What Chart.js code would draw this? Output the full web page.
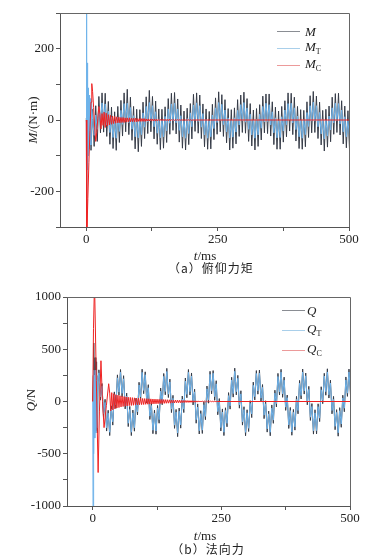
<!DOCTYPE html>
<html lang="zh">
<head>
<meta charset="UTF-8">
<title>俯仰力矩与法向力</title>
<script src="https://cdn.jsdelivr.net/npm/chart.js"></script>
<style>
  body { margin: 0; background: #fff; }
  #page { position: relative; width: 374px; height: 558px; font-family: "Liberation Serif", serif; color: #222; }
  canvas { position: absolute; left: 0; }
  .txt { position: absolute; white-space: nowrap; font-size: 13px; line-height: 1; }
  .mid { transform: translate(-50%, -50%); }
  .rot { transform: translate(-50%, -50%) rotate(-90deg); }
  .cap { font-family: "Noto Sans CJK SC", sans-serif; font-size: 12px; letter-spacing: 1px; }
  .leg { position: absolute; height: 0; width: 23px; border-top: 1px solid; }
  .lab { transform: translateY(-50%); }
  sub { font-size: 8px; font-style: normal; vertical-align: -3px; }
</style>
</head>
<body>
<div id="page">
  <canvas id="chartA" width="374" height="280" style="top:0"></canvas>
  <canvas id="chartB" width="374" height="278" style="top:280px"></canvas>

  <!-- (a) texts -->
  <div class="txt rot" style="left:32px;top:120px"><i>M</i>/(N·m)</div>
  <div class="txt mid" style="left:205px;top:255px"><i>t</i>/ms</div>
  <div class="txt mid cap" style="left:211px;top:268px">（a）俯仰力矩</div>
  <div class="leg" style="left:277px;top:31px;border-color:#8a8d93"></div>
  <div class="leg" style="left:277px;top:48px;border-color:#a9cfea"></div>
  <div class="leg" style="left:277px;top:65px;border-color:#ec9a9a"></div>
  <div class="txt lab" style="left:305px;top:31px"><i>M</i></div>
  <div class="txt lab" style="left:305px;top:48px"><i>M</i><sub>T</sub></div>
  <div class="txt lab" style="left:305px;top:65px"><i>M</i><sub>C</sub></div>

  <!-- (b) texts -->
  <div class="txt rot" style="left:30px;top:400px"><i>Q</i>/N</div>
  <div class="txt mid" style="left:205px;top:535px"><i>t</i>/ms</div>
  <div class="txt mid cap" style="left:208px;top:549px">（b）法向力</div>
  <div class="leg" style="left:282px;top:310px;border-color:#8a8d93"></div>
  <div class="leg" style="left:282px;top:330px;border-color:#a9cfea"></div>
  <div class="leg" style="left:282px;top:350px;border-color:#ec9a9a"></div>
  <div class="txt lab" style="left:307px;top:310px"><i>Q</i></div>
  <div class="txt lab" style="left:307px;top:330px"><i>Q</i><sub>T</sub></div>
  <div class="txt lab" style="left:307px;top:350px"><i>Q</i><sub>C</sub></div>
</div>

<script>
// ---- axes ----
const xTicks = [0, 125, 250, 375, 500];
const xLabels = [0, 250, 500];
const yTicksA = [-300, -200, -100, 0, 100, 200, 300];
const yLabelsA = [-200, 0, 200];
const yTicksB = [-1000, -750, -500, -250, 0, 250, 500, 750, 1000];
const yLabelsB = [-1000, -500, 0, 500, 1000];

// samples every 3 ms from t = 0
const stepMs = 3;

// (a) pitching moment M, N·m
const mValues = [
  5,-74,28,-85,30,-74,40,-60,66,-36, 76,-34,75,-46,52,-68,36,-80,23,-85,
  38,-63,55,-45,76,-33,86,-41,64,-57, 38,-81,30,-89,29,-74,50,-52,65,-38,
  83,-33,66,-53,53,-68,31,-83,30,-79, 37,-63,60,-40,75,-29,77,-39,59,-62,
  42,-79,25,-84,33,-69,46,-53,72,-32, 76,-37,70,-52,45,-75,31,-82,24,-81,
  44,-55,62,-40,79,-33,71,-46,57,-64, 32,-84,29,-79,34,-67,57,-46,70,-35,
  78,-37,60,-60,46,-73,28,-84,32,-74, 43,-56,67,-36,73,-38,73,-45,51,-69,
  36,-82,25,-82,38,-62,54,-47,76,-31, 75,-41,64,-59,38,-80,29,-82,27,-75,
  51,-49,68,-36,80,-35,67,-52,50,-70, 27,-87,30,-76,39,-61,64,-40,74,-35,
  75,-42,54,-67,39,-78,26,-83
];
const mtHeadTimes = [0, 0.4, 1.0, 1.7, 2.5, 3.3, 4.2, 5.2, 6.3, 7.5, 8.7, 10];
const mtHeadValues = [0, 340, -250, 160, -140, 90, -100, 70, -80, 60, -70, 50];
const mtValues = [
  18,-42,1,-52,1,-43,14,-26,36,-5, 48,-1,45,-14,25,-35,7,-49,-3,-51,
  8,-32,27,-12,46,-1,47,-8,35,-26, 12,-47,0,-50,1,-41,20,-20,38,-5,
  49,-2,40,-19,23,-37,3,-50,0,-47, 10,-30,31,-9,45,-3,47,-8,31,-29,
  12,-47,-2,-51,4,-38,20,-19,42,-1, 48,-4,40,-20,18,-42,2,-51,-2,-47,
  14,-24,34,-7,49,-1,44,-13,28,-33, 6,-50,-1,-48,6,-34,27,-14,43,-2,
  49,-6,34,-26,16,-42,0,-51,2,-42, 16,-23,38,-5,47,-4,43,-14,23,-36,
  6,-50,-2,-49,9,-31,28,-13,46,0, 47,-8,34,-27,11,-47,0,-51,1,-41,
  21,-18,40,-3,50,-3,40,-19,21,-39, 1,-53,0,-45,11,-28,34,-8,47,-2,
  46,-11,28,-33,9,-47,-2,-50
];
const mcHeadTimes = [0, 1, 3, 5, 7, 9, 10.5, 12, 14, 16, 18, 20, 22, 24, 26, 28, 30, 32];
const mcHeadValues = [0, -330, -220, -120, -30, 50, 102, 80, 35, -20, -60, -35, 5, 38, 15, -25, 18, -15];
const mcBandStart = 34, mcBandStep = 2;
const mcBandValues = [
  22,-21,19,-17,15,-14,13,-12,11,-10, 10,-9,9,-8,8,-8,7,-7,7,-7,
  6,-6,6,-6,6,-5,5,-5,5,-5, 5,-5,4,-4,4,-4,4,-4,4,-4,
  3,-3,3,-3,3,-3,3,-3,3,-3, 2,-2,2,-2,2,-2,2,-2,2,-2,
  2,-2,2,-2,1,-1,1,-1,1,-1, 1,-1,1,-1,1,-1,1,-1,1,-1,
  1,-1,1,-1
];
const mcTailTimes = [202, 500];
const mcTailValues = [0, 0];

// (b) normal force Q, N
const qHeadTimes = [0, 1, 2, 3, 4.5, 6, 7.5, 9, 10.5];
const qHeadValues = [0, 250, 560, -100, 420, -280, 380, -300, 250];
const qValues = [
  173,-2,288,68,303,13,172,-154,21,-283, -84,-326,-41,-226,92,-66,255,59,306,44,
  247,-71,80,-240,-47,-326,-82,-284,31,-129, 184,12,309,75,284,-14,161,-172,-12,-308,
  -83,-313,-38,-208,129,-31,268,64,317,38, 214,-106,59,-257,-76,-336,-63,-255,52,-106,
  225,36,306,62,273,-33,118,-208,-23,-311, -88,-306,-1,-174,148,-16,289,73,296,12,
  199,-127,28,-282,-71,-326,-60,-242,85,-73, 232,42,319,63,250,-64,103,-226,-50,-328,
  -79,-287,8,-154,185,15,296,70,301,0, 162,-164,7,-293,-92,-328,-33,-209,108,-52,
  269,62,308,40,233,-85,62,-258,-57,-323, -76,-274,49,-118,202,24,311,71,272,-32,
  145,-181,-20,-312,-79,-310,-22,-192,141,-21, 270,60,313,33,204,-118,49,-270,-78,-332,
  -59,-247,60,-98,235,49,310,60
];
const qtHeadTimes = [0, 0.6, 1.3, 2.2, 3, 4, 5, 6, 7.2, 8.4, 9.6];
const qtHeadValues = [0, -1050, 300, -500, 250, -350, 300, -300, 250, -250, 200];
const qtValues = [
  143,30,261,101,274,44,146,-120,-9,-252, -112,-294,-71,-194,65,-33,226,90,280,78,
  217,-40,52,-208,-77,-294,-109,-251,2,-98, 158,46,279,106,256,18,131,-140,-39,-275,
  -112,-282,-64,-174,99,0,240,96,287,70, 187,-73,30,-226,-102,-302,-93,-224,24,-74,
  195,68,279,95,244,-2,92,-174,-53,-280, -116,-274,-31,-142,121,17,260,104,270,46,
  169,-96,0,-250,-101,-294,-87,-209,56,-42, 206,76,289,94,222,-32,73,-194,-77,-295,
  -108,-256,-18,-120,155,46,268,102,271,32, 135,-131,-22,-262,-118,-294,-63,-178,80,-20,
  239,94,281,73,204,-54,36,-224,-87,-292, -104,-242,19,-86,175,57,282,102,246,2,
  115,-150,-48,-280,-109,-278,-49,-159,112,10, 244,94,283,64,176,-86,19,-238,-105,-299,
  -88,-216,34,-64,205,80,282,92
];
const qcHeadTimes = [0, 1.5, 3.5, 7, 10.5, 13, 16, 19, 22, 26.5, 31];
const qcHeadValues = [0, 700, 1150, 200, -680, -100, 390, 0, -250, -40, 170];
const qcBandStart = 33, qcBandStep = 2;
const qcBandValues = [
  80,-90,85,-80,75,-70,65,-62,60,-58, 55,-52,50,-48,47,-45,44,-42,41,-40,
  39,-38,37,-36,35,-34,33,-33,32,-31, 30,-30,29,-29,28,-27,27,-26,26,-25,
  25,-24,24,-23,23,-22,22,-21,21,-20, 20,-19,19,-18,18,-17,17,-16,16,-16,
  15,-15,14,-14,14,-13,13,-12,12,-12, 11,-11,10,-10,10,-9,9,-9,8,-8,
  8,-7,7,-7,6,-6,6,-5,5,-5, 5,-4,4,-4,4,-3,3,-3,3,-2,
  2,-2,2,-1,1
];
const qcTailTimes = [243, 500];
const qcTailValues = [0, 0];

// colours
const colTotal = "#353b47";
const colT = "#6fb3ea";
const colC = "#ee2222";

// build {x,y} list: typed head points, evenly sampled body, typed tail points
function series(headT, headV, start, step, values, tailT, tailV) {
  const pts = headT.map((t, i) => ({ x: t, y: headV[i] }));
  const last = headT.length ? headT[headT.length - 1] : -Infinity;
  values.forEach((v, i) => {
    const x = start + i * step;
    if (x > last) pts.push({ x: x, y: v });
  });
  tailT.forEach((t, i) => pts.push({ x: t, y: tailV[i] }));
  return pts;
}

const frame = {
  id: "frame",
  afterDraw(chart) {
    const a = chart.chartArea, g = chart.ctx;
    g.save();
    g.strokeStyle = "#666";
    g.lineWidth = 1;
    g.beginPath();
    g.moveTo(Math.round(a.left), Math.round(a.top) + 0.5);
    g.lineTo(Math.round(a.right) + 0.5, Math.round(a.top) + 0.5);
    g.lineTo(Math.round(a.right) + 0.5, Math.round(a.bottom));
    g.stroke();
    g.restore();
  }
};

const tickFont = { family: "'Liberation Serif', serif", size: 13 };

function makeChart(id, sets, cfg) {
  return new Chart(document.getElementById(id), {
    type: "line",
    data: { datasets: sets },
    plugins: [frame],
    options: {
      responsive: false,
      animation: false,
      devicePixelRatio: 1,
      parsing: false,
      layout: { padding: { top: cfg.top, right: cfg.right, left: 0, bottom: 0 } },
      plugins: { legend: { display: false }, tooltip: { enabled: false } },
      elements: { point: { radius: 0 }, line: { borderWidth: 1, tension: 0 } },
      scales: {
        x: {
          type: "linear", min: -50, max: 500,
          afterBuildTicks: s => { s.ticks = xTicks.map(v => ({ value: v })); },
          afterFit: s => { s.height = cfg.xh; },
          ticks: { callback: v => xLabels.includes(v) ? String(v) : "", font: tickFont, color: "#222", padding: 1, maxRotation: 0, autoSkip: false },
          grid: { drawOnChartArea: false, tickLength: 4, color: "#555" },
          border: { color: "#555" }
        },
        y: {
          type: "linear", min: cfg.ymin, max: cfg.ymax,
          afterBuildTicks: s => { s.ticks = cfg.yTicks.map(v => ({ value: v })); },
          afterFit: s => { s.width = cfg.yw; },
          ticks: { callback: v => cfg.yLabels.includes(v) ? String(v) : "", font: tickFont, color: "#222", padding: 2, autoSkip: false },
          grid: { drawOnChartArea: false, tickLength: 4, color: "#555" },
          border: { color: "#555" }
        }
      }
    }
  });
}

makeChart("chartA", [
  { label: "M", data: series([], [], 0, stepMs, mValues, [], []), borderColor: colTotal, order: 3 },
  { label: "MT", data: series(mtHeadTimes, mtHeadValues, 0, stepMs, mtValues, [], []), borderColor: colT, order: 2 },
  { label: "MC", data: series(mcHeadTimes, mcHeadValues, mcBandStart, mcBandStep, mcBandValues, mcTailTimes, mcTailValues), borderColor: colC, order: 1 }
], { top: 13, right: 25, xh: 53, yw: 60, ymin: -300, ymax: 300, yTicks: yTicksA, yLabels: yLabelsA });

makeChart("chartB", [
  { label: "Q", data: series(qHeadTimes, qHeadValues, 0, stepMs, qValues, [], []), borderColor: colTotal, order: 3 },
  { label: "QT", data: series(qtHeadTimes, qtHeadValues, 0, stepMs, qtValues, [], []), borderColor: colT, order: 2 },
  { label: "QC", data: series(qcHeadTimes, qcHeadValues, qcBandStart, qcBandStep, qcBandValues, qcTailTimes, qcTailValues), borderColor: colC, order: 1 }
], { top: 17, right: 24, xh: 52, yw: 67, ymin: -1000, ymax: 1000, yTicks: yTicksB, yLabels: yLabelsB });
</script>
</body>
</html>
